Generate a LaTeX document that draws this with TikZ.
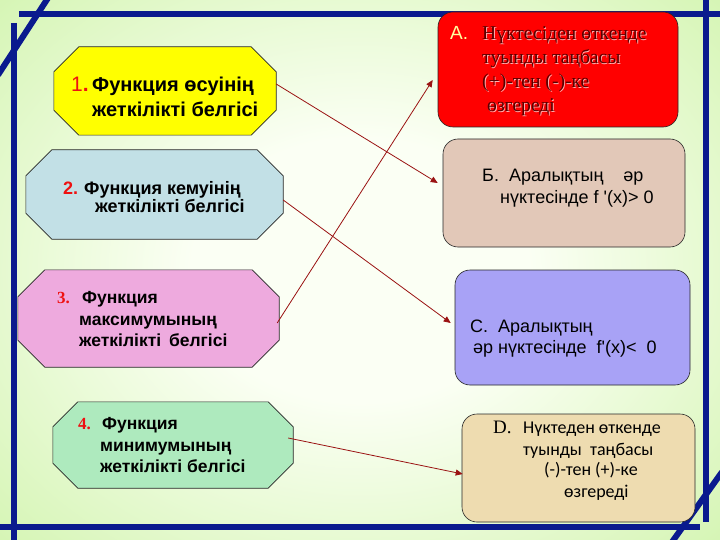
\documentclass[tikz,border=0pt]{standalone}
\usepackage{fontspec}
\setmainfont{Liberation Serif}
\newfontfamily\arial{Liberation Sans}
\newfontfamily\calib{Carlito}
\usetikzlibrary{arrows.meta}
\definecolor{bggreen}{HTML}{C2F094}
\definecolor{bgwhite}{HTML}{FBFFF4}
\definecolor{navy}{HTML}{0A1A8E}
\definecolor{arrowred}{HTML}{9A1212}
\definecolor{boxyellow}{HTML}{FFFF00}
\definecolor{boxblue}{HTML}{C2E0E6}
\definecolor{boxpink}{HTML}{EEAADE}
\definecolor{boxmint}{HTML}{AEEABE}
\definecolor{boxred}{HTML}{FF0000}
\definecolor{boxtan}{HTML}{E2C8B8}
\definecolor{boxlav}{HTML}{A8A2F6}
\definecolor{boxbeige}{HTML}{EEDCB0}
\definecolor{numred}{HTML}{EE1111}
\definecolor{atext}{HTML}{580000}
\definecolor{ashadow}{HTML}{FFB4B4}
\definecolor{ayellow}{HTML}{FFFFA0}
\pgfdeclareradialshading{bgshade}{\pgfpoint{0bp}{0bp}}{color(0bp)=(bgwhite); color(10bp)=(bgwhite); color(40bp)=(bggreen); color(80bp)=(bggreen)}
\newcommand\octbox[3]{%
  \draw[octline, fill=#3] ([xshift=#2]#1.north west) -- ([xshift=-#2]#1.north east)
    -- ([yshift=-#2]#1.north east) -- ([yshift=#2]#1.south east)
    -- ([xshift=-#2]#1.south east) -- ([xshift=#2]#1.south west)
    -- ([yshift=#2]#1.south west) -- ([yshift=-#2]#1.north west) -- cycle;}
\begin{document}
\begin{tikzpicture}[x=1pt,y=-1pt,
  holder/.style={inner sep=0pt, minimum width=#1},
  octline/.style={draw=black!85, line width=0.6pt},
  rbox/.style={draw=black!85, line width=0.6pt, rounded corners=15pt, inner sep=0pt},
  navyline/.style={navy, line width=6pt},
  link/.style={arrowred, line width=0.8pt, -{Triangle[length=7pt,width=6pt]}},
  txt/.style={anchor=base west, inner sep=0pt},
  lt/.style={txt, font=\arial\bfseries\fontsize{20}{20}\selectfont},
  lt2/.style={txt, font=\arial\bfseries\fontsize{18}{18}\selectfont},
  lt3/.style={txt, font=\arial\bfseries\fontsize{17.5}{17.5}\selectfont},
  atx/.style={txt, font=\fontsize{19.6}{19.6}\selectfont},
  bt/.style={txt, font=\arial\fontsize{18}{18}\selectfont},
  ct/.style={txt, font=\arial\fontsize{18}{18}\selectfont},
  dt/.style={txt, font=\calib\fontsize{18}{18}\selectfont},
]
\useasboundingbox (0,0) rectangle (720,540);
\clip (0,0) rectangle (720,540);
\shade[shading=bgshade] (-60,-60) rectangle (780,600);

% frame lines
\draw[navyline] (19,14) -- (720,14);
\draw[navyline] (14,23) -- (14,540);
\draw[navyline] (706,0) -- (706,522);
\draw[navyline] (0,527) -- (700,527);
\draw[navyline] (-2,75) -- (48,-2);
\draw[navyline] (672,542) -- (722,472);

% left boxes (holders)
\node[holder=222pt, minimum height=88pt] (b1) at (165,91) {};
\node[holder=257pt, minimum height=89pt] (b2) at (154.5,194.5) {};
\node[holder=261pt, minimum height=97pt] (b3) at (148.5,318.5) {};
\node[holder=240pt, minimum height=86pt] (b4) at (173,445) {};
\octbox{b1}{25pt}{boxyellow}
\octbox{b2}{26pt}{boxblue}
\octbox{b3}{27pt}{boxpink}
\octbox{b4}{25pt}{boxmint}

% right boxes
\node[rbox, fill=boxred, minimum width=240pt, minimum height=115pt] (bA) at (558,69.5) {};
\node[rbox, fill=boxtan, minimum width=242pt, minimum height=108pt] (bB) at (564,193) {};
\node[rbox, fill=boxlav, minimum width=235pt, minimum height=115pt] (bC) at (572.5,327.5) {};
\node[rbox, fill=boxbeige, minimum width=233pt, minimum height=108pt] (bD) at (578.5,468) {};

% box 1 text
\node[txt, font=\arial\fontsize{21}{21}\selectfont, text=numred] (n1) at (71,92) {1\textbf{.}};
\node[lt] (t1a) at (92,92) {Функция өсуінің};
\node[lt] (t1b) at (92,117) {жеткілікті белгісі};
% box 2 text
\node[lt2, text=numred] (n2) at (63,195) {2.};
\node[lt2] (t2a) at (84,195) {Функция кемуінің};
\node[lt2] (t2b) at (95,213) {жеткілікті белгісі};
% box 3 text
\node[txt, font=\bfseries\fontsize{17}{17}\selectfont, text=numred] (n3) at (57,303) {3.};
\node[lt3] (t3a) at (82,303) {Функция};
\node[lt3] (t3b) at (79,325) {максимумының};
\node[lt3] (t3c) at (79,346) {жеткілікті\, белгісі};
% box 4 text
\node[txt, font=\bfseries\fontsize{17}{17}\selectfont, text=numred] (n4) at (78,429) {4.};
\node[lt3] (t4a) at (102,429) {Функция};
\node[lt3] (t4b) at (100,451) {минимумының};
\node[lt3] (t4c) at (100,472) {жеткілікті белгісі};

% box A text (shadowed)
\node[txt, font=\arial\fontsize{19}{19}\selectfont, text=ayellow] (nA) at (450,40) {А.};
\foreach \nm/\xx/\yy/\tt in {a1/482/40/{Нүктесіден өткенде}, a2/482/64/{туынды таңбасы}, a3/482/88/{(+)-тен (-)-ке}, a4/487/112/{өзгереді}}{
  \node[atx, text=ashadow] (\nm s) at (\xx+0.8,\yy+0.8) {\tt};
  \node[atx, text=atext] (\nm) at (\xx,\yy) {\tt};
}
% box B text
\node[bt] (tBa) at (482,182) {Б.\ \ Аралықтың\ \ \ \ әр};
\node[bt] (tBb) at (500,204) {нүктесінде f '(x)> 0};
% box C text
\node[ct] (tCa) at (470,332) {С.\ \ Аралықтың};
\node[ct] (tCb) at (473,353) {әр нүктесінде\ \ f'(x)<\ \ 0};
% box D text
\node[txt, font=\fontsize{19}{19}\selectfont] (nD) at (493,433) {D.};
\node[dt] (tDa) at (523,433) {Нүктеден өткенде};
\node[dt] (tDb) at (523,455) {туынды\ \ таңбасы};
\node[dt] (tDc) at (544,475) {(-)-тен (+)-ке};
\node[dt] (tDd) at (564,497) {өзгереді};

% connectors
\draw[link] ([yshift=7pt]b1.east) -- ([xshift=-5pt,yshift=10pt]bB.west);
\draw[link] ([yshift=-5.5pt]b2.east) -- ([xshift=-4pt,yshift=4.5pt]bC.west);
\draw[link] ([xshift=-2pt,yshift=-4.5pt]b3.east) -- ([xshift=-5pt,yshift=-10.5pt]bA.west);
\draw[link] ([xshift=-5pt,yshift=7pt]b4.east) -- ([xshift=1pt,yshift=-6pt]bD.west);
\end{tikzpicture}
\end{document}
